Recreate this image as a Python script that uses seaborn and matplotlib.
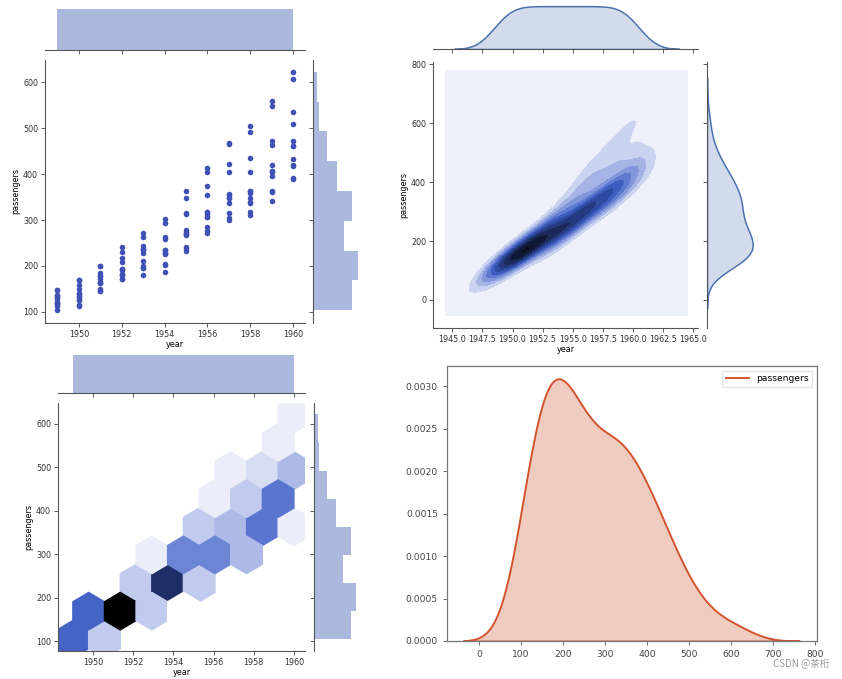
import colorsys
import numpy as np
import pandas as pd
import matplotlib
matplotlib.use("Agg")
import matplotlib.pyplot as plt
from matplotlib.lines import Line2D
import seaborn as sns

# flights data (monthly passengers, 1949-1960)
years = list(range(1949, 1961))
passengers_by_year = [
    [112, 118, 132, 129, 121, 135, 148, 148, 136, 119, 104, 118],
    [115, 126, 141, 135, 125, 149, 170, 170, 158, 133, 114, 140],
    [145, 150, 178, 163, 172, 178, 199, 199, 184, 162, 146, 166],
    [171, 180, 193, 181, 183, 218, 230, 242, 209, 191, 172, 194],
    [196, 196, 236, 235, 229, 243, 264, 272, 237, 211, 180, 201],
    [204, 188, 235, 227, 234, 264, 302, 293, 259, 229, 203, 229],
    [242, 233, 267, 269, 270, 315, 364, 347, 312, 274, 237, 278],
    [284, 277, 317, 313, 318, 374, 413, 405, 355, 306, 271, 306],
    [315, 301, 356, 348, 355, 422, 465, 467, 404, 347, 305, 336],
    [340, 318, 362, 348, 363, 435, 491, 505, 404, 359, 310, 337],
    [360, 342, 406, 396, 420, 472, 548, 559, 463, 407, 362, 405],
    [417, 391, 419, 461, 472, 535, 622, 606, 508, 461, 390, 432],
]

flights = pd.DataFrame({
    "year": np.repeat(years, 12),
    "passengers": np.concatenate(passengers_by_year),
})
x = flights["year"].to_numpy(float)
y = flights["passengers"].to_numpy(float)

blue = "#3f51b5"
kde_blue = "#4c72b0"
marg_color = "#5b75bf"
red = "#d0552f"


def light_to_dark(color, n=12):
    r, g, b = matplotlib.colors.to_rgb(color)
    h, l, s = colorsys.rgb_to_hls(r, g, b)
    cols = [colorsys.hls_to_rgb(h, ll, s) for ll in np.linspace(1, 0, n)]
    return sns.blend_palette(cols, as_cmap=True)


cmap = light_to_dark("#4060c8")

W, H = 842, 679
fig = plt.figure(figsize=(W / 100, H / 100), dpi=100)


def add_ax(left, top, right, bottom):
    return fig.add_axes([left / W, 1 - bottom / H, (right - left) / W, (bottom - top) / H])


def style_joint(ax):
    for s in ["top", "right"]:
        ax.spines[s].set_visible(False)
    ax.tick_params(labelsize=5.8, length=3, width=0.6, color="#444444", labelcolor="#333333", pad=2)
    for s in ["left", "bottom"]:
        ax.spines[s].set_linewidth(0.8)
        ax.spines[s].set_color("#555555")
    ax.set_xlabel("year", fontsize=5.8, labelpad=0.5)
    ax.set_ylabel("passengers", fontsize=5.8, labelpad=2)


def style_top(ax):
    for s in ["top", "right", "left"]:
        ax.spines[s].set_visible(False)
    ax.spines["bottom"].set_color("#555555")
    ax.spines["bottom"].set_linewidth(0.8)
    ax.tick_params(labelbottom=False, left=False, labelleft=False, length=3, width=0.6, color="#444444")
    ax.set_xlabel("")
    ax.set_ylabel("")


def style_right(ax):
    for s in ["top", "right", "bottom"]:
        ax.spines[s].set_visible(False)
    ax.spines["left"].set_color("#555555")
    ax.spines["left"].set_linewidth(0.8)
    ax.tick_params(labelleft=False, bottom=False, labelbottom=False, length=3, width=0.6, color="#444444")
    ax.set_xlabel("")
    ax.set_ylabel("")


xlim_a = (1948.42, 1960.55)
ylim_a = (76, 648)

# ---------- top-left: scatter ----------
ax1 = add_ax(45, 60, 305, 323)
sns.scatterplot(data=flights, x="year", y="passengers", ax=ax1, color=blue, s=16, linewidth=0)
ax1.set_xlim(xlim_a)
ax1.set_ylim(ylim_a)
ax1.set_xticks([1950, 1952, 1954, 1956, 1958, 1960])
style_joint(ax1)

ax1t = add_ax(45, 7, 305, 50)
sns.histplot(data=flights, x="year", bins=6, ax=ax1t, color=marg_color, alpha=0.5, linewidth=0)
ax1t.set_xlim(xlim_a)
ax1t.set_xticks([1950, 1952, 1954, 1956, 1958, 1960])
style_top(ax1t)

ax1r = add_ax(313, 60, 360, 323)
sns.histplot(data=flights, y="passengers", bins=8, ax=ax1r, color=marg_color, alpha=0.5, linewidth=0)
ax1r.set_ylim(ylim_a)
ax1r.set_yticks([100, 200, 300, 400, 500, 600])
style_right(ax1r)

# ---------- top-right: kde ----------
# gaussian kde (scott factor on full covariance), linear contour levels
n = len(x)
factor = n ** (-1 / 6)
cov = np.cov(np.vstack([x, y])) * factor ** 2
inv = np.linalg.inv(cov)
sx, sy = np.sqrt(np.diag(cov))
gx = np.linspace(x.min() - 3 * sx, x.max() + 3 * sx, 100)
gy = np.linspace(y.min() - 3 * sy, y.max() + 3 * sy, 100)
xx, yy = np.meshgrid(gx, gy)
zz = np.zeros_like(xx)
for xi, yi in zip(x, y):
    dx, dy = xx - xi, yy - yi
    zz += np.exp(-0.5 * (inv[0, 0] * dx * dx + 2 * inv[0, 1] * dx * dy + inv[1, 1] * dy * dy))
zz /= n * 2 * np.pi * np.sqrt(np.linalg.det(cov))

ax2 = add_ax(433, 62, 698, 328)
ax2.contourf(xx, yy, zz, 10, cmap=cmap)
ax2.set_xlim(1943.4, 1965.4)
ax2.set_ylim(-95, 807)
ax2.set_xticks(np.arange(1945, 1965.1, 2.5))
ax2.set_xticklabels([f"{v:.1f}" for v in np.arange(1945, 1965.1, 2.5)])
ax2.set_yticks([0, 200, 400, 600, 800])
style_joint(ax2)

ax2t = add_ax(433, 4, 698, 49)
sns.kdeplot(data=flights, x="year", ax=ax2t, color=kde_blue, fill=True, cut=3, linewidth=1.1)
ax2t.set_xlim(1943.4, 1965.4)
ax2t.set_ylim(0, None)
ax2t.set_xticks(np.arange(1945, 1965.1, 2.5))
style_top(ax2t)

ax2r = add_ax(707, 62, 755, 328)
sns.kdeplot(data=flights, y="passengers", ax=ax2r, color=kde_blue, fill=True, cut=3, linewidth=1.1)
ax2r.set_ylim(-95, 807)
ax2r.set_xlim(0, None)
ax2r.set_yticks([0, 200, 400, 600, 800])
style_right(ax2r)

# ---------- bottom-left: hex ----------
xlim_c = (1948.26, 1960.55)
ylim_c = (77, 648)
ax3 = add_ax(58, 403, 305, 651)
ax3.hexbin(x, y, gridsize=7, cmap=cmap, mincnt=1)
ax3.set_xlim(xlim_c)
ax3.set_ylim(ylim_c)
ax3.set_xticks([1950, 1952, 1954, 1956, 1958, 1960])
ax3.set_yticks([100, 200, 300, 400, 500, 600])
style_joint(ax3)

ax3t = add_ax(58, 353, 305, 393)
sns.histplot(data=flights, x="year", bins=6, ax=ax3t, color=marg_color, alpha=0.5, linewidth=0)
ax3t.set_xlim(xlim_c)
ax3t.set_xticks([1950, 1952, 1954, 1956, 1958, 1960])
style_top(ax3t)

ax3r = add_ax(314, 403, 358, 651)
sns.histplot(data=flights, y="passengers", bins=8, ax=ax3r, color=marg_color, alpha=0.5, linewidth=0)
ax3r.set_ylim(ylim_c)
ax3r.set_yticks([100, 200, 300, 400, 500, 600])
style_right(ax3r)

# ---------- bottom-right: 1d kde ----------
ax4 = add_ax(447, 366, 817, 641)
sns.kdeplot(data=flights, x="passengers", ax=ax4, color=red, fill=True, alpha=0.3,
            bw_adjust=1.059, cut=3, linewidth=1.4)
ax4.set_xlim(-76, 805)
ax4.set_ylim(0, 0.00324)
ax4.set_xticks(range(0, 801, 100))
ax4.set_yticks(np.arange(0, 0.00301, 0.0005))
ax4.set_yticklabels([f"{v:.4f}" for v in np.arange(0, 0.00301, 0.0005)])
ax4.set_xlabel("")
ax4.set_ylabel("")
ax4.tick_params(labelsize=6.6, length=3, width=0.6, color="#555555", labelcolor="#444444")
for s in ax4.spines.values():
    s.set_color("#777777")
    s.set_linewidth(0.9)
ax4.legend(handles=[Line2D([], [], color=red, lw=1.4, label="passengers")],
           loc="upper right", fontsize=6.6, frameon=True, edgecolor="#dddddd", handlelength=2.5)

fig.text(0.985, 0.015, "CSDN @茶桁", ha="right", va="bottom", fontsize=7, color="#999999",
         family=["Noto Sans CJK SC", "DejaVu Sans"])

fig.savefig("out.png", dpi=100)
